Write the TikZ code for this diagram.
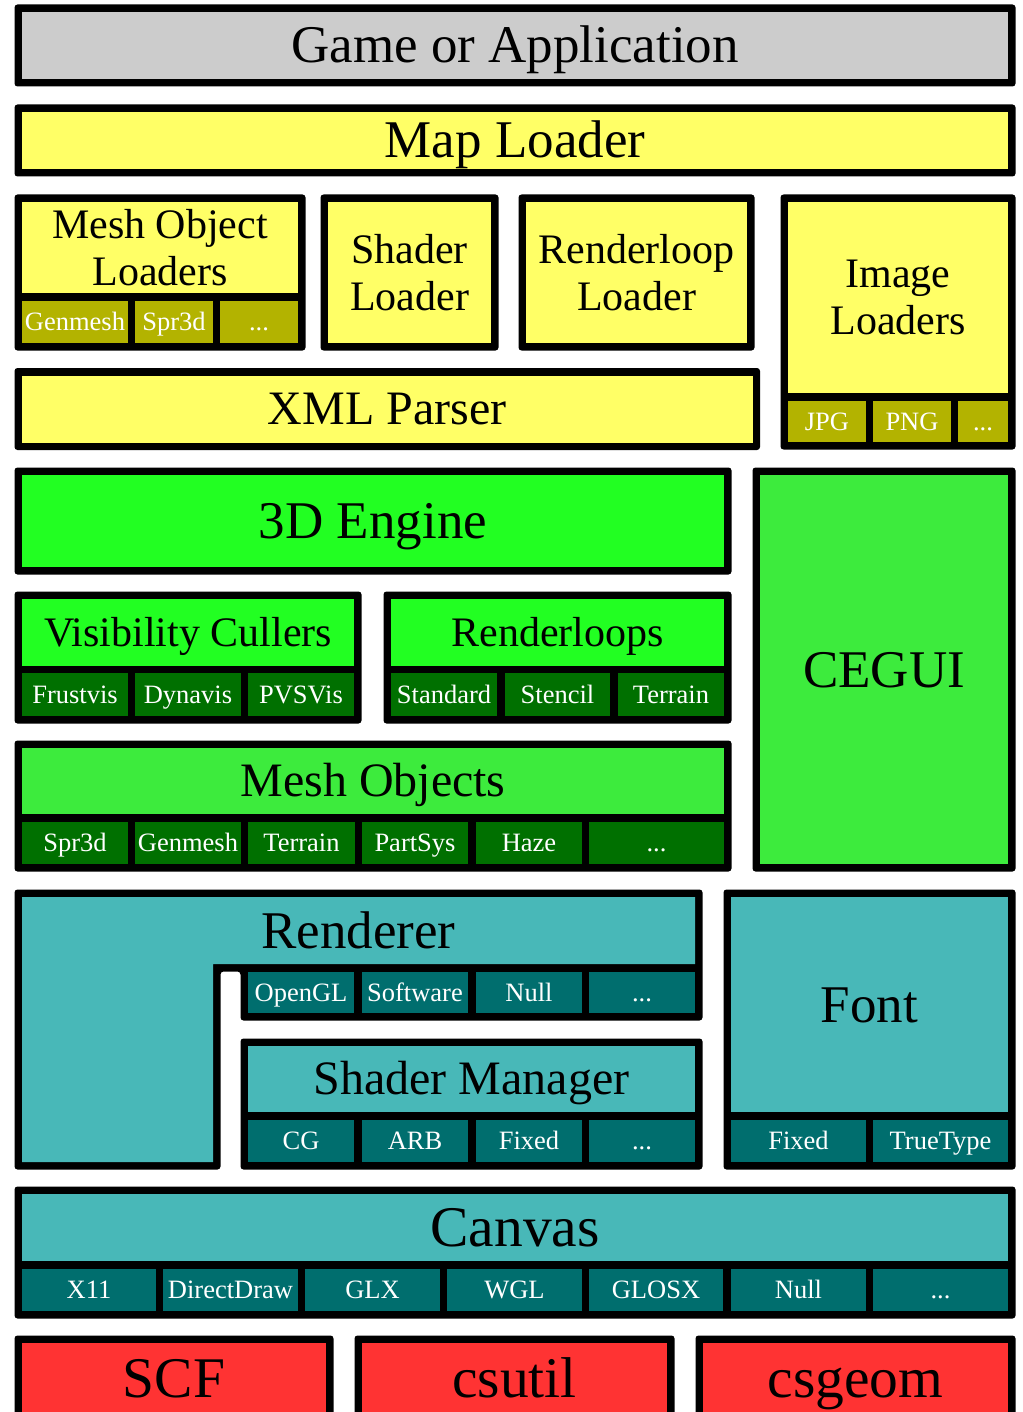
\documentclass[tikz,border=0pt]{standalone}
\usepackage{fontspec}
\setmainfont{Liberation Serif}

\definecolor{appgray}{HTML}{CCCCCC}
\definecolor{loadyellow}{HTML}{FFFF66}
\definecolor{loadolive}{HTML}{B3B300}
\definecolor{enggreen}{HTML}{22FF22}
\definecolor{meshgreen}{HTML}{3DEB3D}
\definecolor{subgreen}{HTML}{007000}
\definecolor{rendteal}{HTML}{48B8B8}
\definecolor{subteal}{HTML}{006E6E}
\definecolor{basered}{HTML}{FF3333}

\tikzset{
  frame/.style={fill=black, rounded corners=3pt},
  cellbox/.style={inner sep=0pt, outer sep=0pt, anchor=center},
  hugelbl/.style={font=\fontsize{53}{60}\selectfont, text height=35pt, text depth=0pt},
  baselbl/.style={font=\fontsize{57.5}{64}\selectfont, text height=38pt, text depth=0pt},
  midlbl/.style={font=\fontsize{48}{54}\selectfont, text height=31.8pt, text depth=0pt},
  smalllbl/.style={font=\fontsize{42}{47.5}\selectfont, text height=27.8pt, text depth=0pt},
  twoline/.style={font=\fontsize{42}{47.5}\selectfont, align=center},
  sublbl/.style={font=\fontsize{26.5}{30}\selectfont, text=white, text height=17.5pt, text depth=0pt},
}

% a filled cell: name, x1, y1, x2, y2, style, text
\newcommand\cell[7]{%
  \node[cellbox,#6,minimum width={(#4-#2)*1pt},minimum height={(#5-#3)*1pt}]
    (#1) at ({(#2+#4)/2},{(#3+#5)/2}) {#7};}
% black frame around an inner area: x1, y1, x2, y2
\newcommand\frameblock[4]{%
  \fill[frame] ({#1-7.5},{#2-7.5}) rectangle ({#3+7.5},{#4+7.5});}

\begin{document}
\begin{tikzpicture}[x=1pt,y=-1pt]
\useasboundingbox (0,0) rectangle (1022,1412);
\clip (0,0) rectangle (1022,1412);
\fill[white] (0,0) rectangle (1022,1412);

% application layer
\frameblock{22}{12}{1008}{79}
\cell{app}{22}{12}{1008}{79}{fill=appgray,hugelbl}{Game or Application}

% loaders
\frameblock{22}{112}{1008}{169}
\cell{maploader}{22}{112}{1008}{169}{fill=loadyellow,hugelbl}{Map Loader}

\frameblock{22}{202}{298}{343}
\cell{meshldr}{22}{202}{298}{293}{fill=loadyellow,twoline}{Mesh Object\\Loaders}
\cell{mlGenmesh}{22}{301}{128}{343}{fill=loadolive,sublbl}{Genmesh}
\cell{mlSpr}{135}{301}{213}{343}{fill=loadolive,sublbl}{Spr3d}
\cell{mlMore}{220}{301}{298}{343}{fill=loadolive,sublbl}{...}

\frameblock{328}{202}{491}{343}
\cell{shaderldr}{328}{202}{491}{343}{fill=loadyellow,twoline}{Shader\\Loader}

\frameblock{526}{202}{747}{343}
\cell{rlldr}{526}{202}{747}{343}{fill=loadyellow,twoline}{Renderloop\\Loader}

\frameblock{788}{202}{1008}{442}
\cell{imgldr}{788}{202}{1008}{393}{fill=loadyellow,twoline}{Image\\Loaders}
\cell{ilJpg}{788}{401}{866}{442}{fill=loadolive,sublbl}{JPG}
\cell{ilPng}{873}{401}{951}{442}{fill=loadolive,sublbl}{PNG}
\cell{ilMore}{958}{401}{1008}{442}{fill=loadolive,sublbl}{...}

\frameblock{22}{375.5}{752.5}{442.5}
\cell{xml}{22}{375.5}{752.5}{442.5}{fill=loadyellow,midlbl}{XML Parser}

% engine layer
\frameblock{22}{475}{724}{567}
\cell{engine}{22}{475}{724}{567}{fill=enggreen,hugelbl}{3D Engine}

\frameblock{760}{475}{1008}{864}
\cell{cegui}{760}{475}{1008}{864}{fill=meshgreen,hugelbl}{CEGUI}

\frameblock{22}{599}{354}{716}
\cell{vis}{22}{599}{354}{666}{fill=enggreen,smalllbl}{Visibility Cullers}
\cell{visFrust}{22}{673}{128}{716}{fill=subgreen,sublbl}{Frustvis}
\cell{visDyna}{135}{673}{241}{716}{fill=subgreen,sublbl}{Dynavis}
\cell{visPvs}{248}{673}{354}{716}{fill=subgreen,sublbl}{PVSVis}

\frameblock{391}{599}{724}{716}
\cell{rloops}{391}{599}{724}{666}{fill=enggreen,smalllbl}{Renderloops}
\cell{rlStd}{391}{673}{497}{716}{fill=subgreen,sublbl}{Standard}
\cell{rlSten}{505}{673}{610}{716}{fill=subgreen,sublbl}{Stencil}
\cell{rlTerr}{618}{673}{724}{716}{fill=subgreen,sublbl}{Terrain}

\frameblock{22}{748}{724}{864}
\cell{meshobj}{22}{748}{724}{814}{fill=meshgreen,midlbl}{Mesh Objects}
\cell{moSpr}{22}{822}{128}{864}{fill=subgreen,sublbl}{Spr3d}
\cell{moGen}{135}{822}{241}{864}{fill=subgreen,sublbl}{Genmesh}
\cell{moTerr}{248}{822}{355}{864}{fill=subgreen,sublbl}{Terrain}
\cell{moPart}{362}{822}{468}{864}{fill=subgreen,sublbl}{PartSys}
\cell{moHaze}{476}{822}{582}{864}{fill=subgreen,sublbl}{Haze}
\cell{moMore}{589}{822}{724}{864}{fill=subgreen,sublbl}{...}

% renderer (L-shaped) and shader manager
\fill[frame] (14.5,889.5) -- (702.5,889.5) -- (702.5,1020.5) -- (240.5,1020.5)
  -- (240.5,971.5) -- (220.5,971.5) -- (220.5,1169.5) -- (14.5,1169.5) -- cycle;
\fill[rendteal] (22,897) -- (695,897) -- (695,964) -- (213,964) -- (213,1162)
  -- (22,1162) -- cycle;
\node[cellbox,hugelbl] (renderer) at (358.5,930.5) {Renderer};
\cell{rOgl}{248}{971.5}{354}{1013}{fill=subteal,sublbl}{OpenGL}
\cell{rSoft}{362}{971.5}{468}{1013}{fill=subteal,sublbl}{Software}
\cell{rNull}{476}{971.5}{582}{1013}{fill=subteal,sublbl}{Null}
\cell{rMore}{589}{971.5}{695}{1013}{fill=subteal,sublbl}{...}

\frameblock{248}{1046}{695}{1162}
\cell{shmgr}{248}{1046}{695}{1112}{fill=rendteal,midlbl}{Shader Manager}
\cell{smCg}{248}{1120}{354}{1162}{fill=subteal,sublbl}{CG}
\cell{smArb}{362}{1120}{468}{1162}{fill=subteal,sublbl}{ARB}
\cell{smFixed}{476}{1120}{582}{1162}{fill=subteal,sublbl}{Fixed}
\cell{smMore}{589}{1120}{695}{1162}{fill=subteal,sublbl}{...}

\frameblock{731}{897}{1008}{1162}
\cell{font}{731}{897}{1008}{1112}{fill=rendteal,hugelbl}{Font}
\cell{fFixed}{731}{1120}{866}{1162}{fill=subteal,sublbl}{Fixed}
\cell{fTT}{873}{1120}{1008}{1162}{fill=subteal,sublbl}{TrueType}

% canvas
\frameblock{22}{1194}{1008}{1311}
\cell{canvas}{22}{1194}{1008}{1261}{fill=rendteal,baselbl}{Canvas}
\cell{cX}{22}{1269}{156}{1311}{fill=subteal,sublbl}{X11}
\cell{cDD}{163}{1269}{298}{1311}{fill=subteal,sublbl}{DirectDraw}
\cell{cGlx}{305}{1269}{440}{1311}{fill=subteal,sublbl}{GLX}
\cell{cWgl}{447}{1269}{582}{1311}{fill=subteal,sublbl}{WGL}
\cell{cGlosx}{589}{1269}{723}{1311}{fill=subteal,sublbl}{GLOSX}
\cell{cNull}{731}{1269}{866}{1311}{fill=subteal,sublbl}{Null}
\cell{cMore}{873}{1269}{1008}{1311}{fill=subteal,sublbl}{...}

% base libraries
\frameblock{22}{1343}{326}{1413}
\cell{scf}{22}{1343}{326}{1413}{fill=basered,baselbl}{SCF}
\frameblock{362}{1343}{667}{1413}
\cell{csutil}{362}{1343}{667}{1413}{fill=basered,baselbl}{csutil}
\frameblock{703}{1343}{1008}{1413}
\cell{csgeom}{703}{1343}{1008}{1413}{fill=basered,baselbl}{csgeom}
\end{tikzpicture}
\end{document}
